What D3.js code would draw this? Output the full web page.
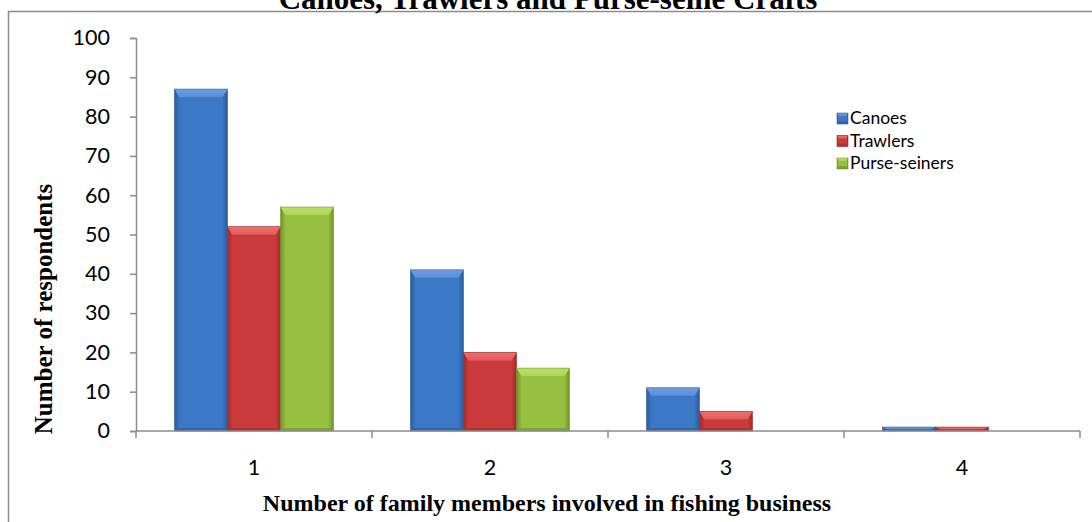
<!DOCTYPE html>
<html>
<head>
<meta charset="utf-8">
<script src="https://cdn.jsdelivr.net/npm/d3@7"></script>
<style>
  html, body { margin: 0; padding: 0; background: #fff; }
  svg { display: block; }
</style>
</head>
<body>
<svg id="chart" width="1092" height="522"></svg>
<script>
// Respondents by number of family members involved in fishing, per craft type
const categories = ["1", "2", "3", "4"];
const seriesNames = ["Canoes", "Trawlers", "Purse-seiners"];
const canoes = [87, 41, 11, 1];
const trawlers = [52, 20, 5, 1];
const purseSeiners = [57, 16, 0, 0];
const yTicks = [0, 10, 20, 30, 40, 50, 60, 70, 80, 90, 100];

const titleText = "Canoes, Trawlers and Purse-seine Crafts";
const xTitle = "Number of family members involved in fishing business";
const yTitle = "Number of respondents";

const seriesValues = [canoes, trawlers, purseSeiners];
const palette = [
  { base: "#3b78c6", light: "#6f9fe2", dark: "#2b5c9c", top: "#5a8ed6" },
  { base: "#cc3b3b", light: "#ec7070", dark: "#a02a2a", top: "#e05c5c" },
  { base: "#97c040", light: "#bde066", dark: "#6f9328", top: "#aed459" }
];

const svg = d3.select("#chart");
const plot = { left: 136, right: 1080, top: 38, bottom: 431 };

const x0 = d3.scaleBand().domain(categories).range([plot.left, plot.right]).paddingInner(0).paddingOuter(0);
const groupPad = 0.163;
const x1 = d3.scaleBand().domain(seriesNames)
  .range([x0.bandwidth() * groupPad, x0.bandwidth() * (1 - groupPad)]);
const y = d3.scaleLinear().domain([0, 100]).range([plot.bottom, plot.top]);

// gradients per series
const defs = svg.append("defs");
palette.forEach((p, i) => {
  const g = defs.append("linearGradient").attr("id", "grad" + i)
    .attr("x1", "0").attr("x2", "1").attr("y1", "0").attr("y2", "0");
  g.append("stop").attr("offset", "0%").attr("stop-color", p.dark);
  g.append("stop").attr("offset", "10%").attr("stop-color", p.base);
  g.append("stop").attr("offset", "50%").attr("stop-color", p.base);
  g.append("stop").attr("offset", "90%").attr("stop-color", p.base);
  g.append("stop").attr("offset", "100%").attr("stop-color", p.dark);
  const t = defs.append("linearGradient").attr("id", "top" + i)
    .attr("x1", "0").attr("x2", "0").attr("y1", "0").attr("y2", "1");
  t.append("stop").attr("offset", "0%").attr("stop-color", p.light);
  t.append("stop").attr("offset", "100%").attr("stop-color", p.top);
});

// outer chart border
svg.append("rect").attr("x", 8.5).attr("y", 11.5).attr("width", 1100).attr("height", 530)
  .attr("fill", "none").attr("stroke", "#8c8c8c").attr("stroke-width", 1.5);

// title (sits partly above the frame)
svg.append("text").attr("x", 548).attr("y", 9)
  .attr("text-anchor", "middle")
  .attr("font-family", "'Liberation Serif', 'Times New Roman', serif")
  .attr("font-weight", "bold").attr("font-size", 31)
  .text(titleText);

// beveled bar
function drawBar(g, bx, by, w, h, si, bevel) {
  if (h <= 0) return;
  const p = palette[si];
  const b = Math.min(bevel, h / 2);
  const s = Math.min(bevel * 0.6, w / 4);
  g.append("rect").attr("x", bx).attr("y", by).attr("width", w).attr("height", h)
    .attr("fill", `url(#grad${si})`);
  // top bevel
  g.append("polygon")
    .attr("points", [[bx, by], [bx + w, by], [bx + w - s, by + b], [bx + s, by + b]].map(d => d.join(",")).join(" "))
    .attr("fill", `url(#top${si})`);
  // bottom bevel
  const bb = Math.min(3, h / 3);
  g.append("polygon")
    .attr("points", [[bx, by + h], [bx + w, by + h], [bx + w - s, by + h - bb], [bx + s, by + h - bb]].map(d => d.join(",")).join(" "))
    .attr("fill", p.dark).attr("opacity", 0.6);
  g.append("rect").attr("x", bx).attr("y", by).attr("width", w).attr("height", h)
    .attr("fill", "none").attr("stroke", p.dark).attr("stroke-width", 0.8).attr("stroke-opacity", 0.7);
}

const bars = svg.append("g");
categories.forEach((c, ci) => {
  seriesNames.forEach((sn, si) => {
    const v = seriesValues[si][ci];
    const bx = x0(c) + x1(sn);
    drawBar(bars, bx, y(v), x1.bandwidth(), y(0) - y(v), si, 8);
  });
});

// y axis
const yAxis = d3.axisLeft(y).tickValues(yTicks).tickSize(6).tickPadding(20);
const gy = svg.append("g").attr("transform", `translate(${plot.left},0)`).call(yAxis);
gy.select(".domain").attr("stroke", "#8c8c8c").attr("stroke-width", 1.5);
gy.selectAll(".tick line").attr("stroke", "#8c8c8c").attr("stroke-width", 1.5);
gy.selectAll(".tick text").attr("font-family", "Lato, 'Open Sans', sans-serif")
  .attr("font-size", 21.5).attr("fill", "#000");

// x axis
const gx = svg.append("g").attr("transform", `translate(0,${plot.bottom})`);
gx.append("line").attr("x1", plot.left).attr("x2", plot.right).attr("y1", 0).attr("y2", 0)
  .attr("stroke", "#8c8c8c").attr("stroke-width", 1.5);
const boundaries = categories.map(c => x0(c)).concat([plot.right]);
gx.selectAll("line.tick").data(boundaries).enter().append("line")
  .attr("class", "tick")
  .attr("x1", d => d).attr("x2", d => d).attr("y1", 0).attr("y2", 7)
  .attr("stroke", "#8c8c8c").attr("stroke-width", 1.5);
gx.selectAll("text.lbl").data(categories).enter().append("text")
  .attr("class", "lbl")
  .attr("x", d => x0(d) + x0.bandwidth() / 2).attr("y", 44)
  .attr("text-anchor", "middle")
  .attr("font-family", "Lato, 'Open Sans', sans-serif").attr("font-size", 21.5)
  .text(d => d);

// axis titles
svg.append("text").attr("x", 547).attr("y", 511).attr("text-anchor", "middle")
  .attr("font-family", "'Liberation Serif', 'Times New Roman', serif")
  .attr("font-weight", "bold").attr("font-size", 24)
  .text(xTitle);
svg.append("text").attr("transform", "translate(52,309) rotate(-90)")
  .attr("text-anchor", "middle")
  .attr("font-family", "'Liberation Serif', 'Times New Roman', serif")
  .attr("font-weight", "bold").attr("font-size", 25)
  .text(yTitle);

// legend
const legend = svg.append("g").attr("transform", "translate(837,118)");
seriesNames.forEach((sn, i) => {
  const g = legend.append("g").attr("transform", `translate(0,${i * 22.5})`);
  drawBar(g, 0, -5, 11, 11, i, 3);
  g.append("text").attr("x", 13).attr("y", 0).attr("dy", "0.35em")
    .attr("font-family", "Lato, 'Open Sans', sans-serif").attr("font-size", 17.5)
    .text(sn);
});
</script>
</body>
</html>
